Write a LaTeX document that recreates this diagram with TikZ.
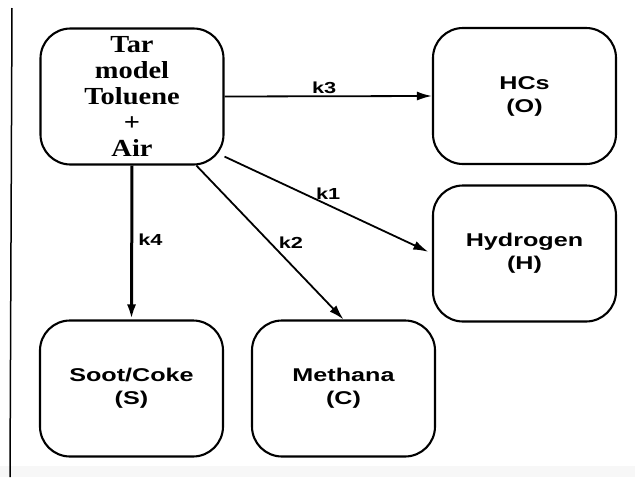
\documentclass[tikz,border=0pt]{standalone}
\usepackage{fontspec}
\usetikzlibrary{arrows.meta}
\newfontfamily\labfont[FakeStretch=1.36]{Liberation Sans}
\newfontfamily\tarfont[FakeStretch=1.16]{Liberation Serif}
\tikzset{
  box/.style={draw=black, line width=2.1pt, rounded corners=30pt,
    minimum width=183pt, minimum height=136pt, inner sep=0pt,
    align=center, font=\labfont\bfseries\fontsize{18.5}{23}\selectfont},
  conn/.style={line width=1.8pt, -{Latex[length=15pt,width=9pt]}},
  klab/.style={font=\labfont\bfseries\fontsize{16}{18}\selectfont, inner sep=1pt}
}
\begin{document}
\begin{tikzpicture}[x=1pt,y=-1pt]
\useasboundingbox (0,0) rectangle (635,477);
\fill[white] (0,0) rectangle (635,477);
\fill[gray!6] (0,466) rectangle (635,477);
\draw[line width=1.5pt] (12,8) -- (10,477);

\node[box, font=\tarfont\bfseries\fontsize{24.5}{26}\selectfont] (tar) at (132,96.5)
  {Tar\\model\\Toluene\\+\\Air};
\node[box] (hcs) at (524.5,96) {HCs\\(O)};
\node[box] (hyd) at (524.5,253.5) {Hydrogen\\(H)};
\node[box] (soot) at (131.5,388.5) {Soot/Coke\\(S)};
\node[box] (meth) at (343.5,388.5) {Methana\\(C)};

\draw[conn] (tar.east) -- node[klab, pos=0.48, above=1pt] {k3} (hcs.west);
\draw[conn, shorten >=4pt] (tar.-33.6) -- node[klab, pos=0.5, above=4pt] {k1} (hyd.west);
\draw[conn] (tar.-47) -- node[klab, pos=0.5, anchor=west, xshift=7pt] {k2} (meth.north);
\draw[conn, line width=3pt] (tar.south) -- node[klab, pos=0.48, anchor=west, xshift=4pt] {k4} (soot.north);
\end{tikzpicture}
\end{document}
